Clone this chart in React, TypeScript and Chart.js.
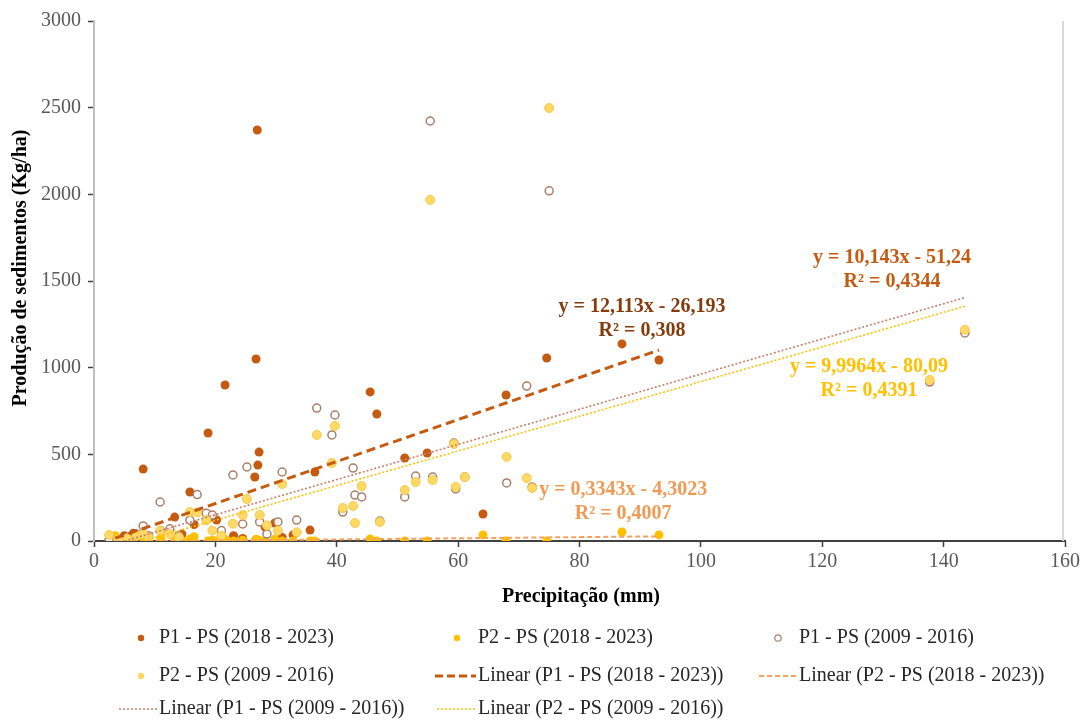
import React, { useEffect, useRef } from "react";
import { Chart, registerables } from "chart.js";

Chart.register(...registerables);

// ---------- data ----------
const xTickValues = [0, 20, 40, 60, 80, 100, 120, 140, 160];
const yTickValues = [0, 500, 1000, 1500, 2000, 2500, 3000];

// events 2018 - 2023 (precipitation, mm)
const recentX = [3.5, 5, 6.5, 8.1, 9, 11, 13.3, 14.5, 15.8, 16.5, 18.8, 19.5, 20.2, 21.6, 23, 24.5, 26.5, 26.7, 26.9, 27.0, 27.2, 28.2, 29.8, 31, 32.8, 35.6, 36.4, 45.5, 46.6, 51.2, 54.9, 64.1, 67.9, 74.6, 87.0, 93.1];
const p1RecentY = [15, 30, 45, 415, 20, 60, 138, 40, 283, 95, 623, 140, 121, 900, 30, 15, 369, 1050, 2371, 438, 513, 81, 104, 20, 35, 63, 398, 860, 733, 479, 508, 156, 842, 1056, 1137, 1044];
const p2RecentY = [30, 5, 10, 20, 0, 15, 5, 0, 10, 25, 0, 5, 0, 10, 0, 5, 0, 10, 0, 0, 5, 0, 10, 0, 0, 0, 0, 12, 0, 0, 0, 35, 0, 0, 52, 35];

// events 2009 - 2016
const histX = [2.5, 4, 5.5, 7, 8.1, 9, 10.9, 12.5, 14, 15.8, 17.0, 18.5, 19.5, 21, 22.9, 24.5, 25.2, 27.3, 28.5, 30.3, 31.0, 33.4, 36.7, 39.2, 39.7, 41.0, 42.7, 43.0, 44.1, 47.1, 51.2, 53.0, 55.4, 55.8, 59.3, 59.6, 61.1, 68.0, 71.3, 72.2, 75.0, 137.7, 143.5];
const p1HistY = [10, 5, 20, 40, 87, 30, 225, 70, 30, 120, 268, 160, 150, 60, 381, 98, 427, 110, 40, 110, 398, 121, 767, 612, 727, 167, 421, 265, 254, 115, 254, 375, 2423, 369, 565, 300, 369, 335, 894, 312, 2020, 917, 1200];
const p2HistY = [35, 10, 15, 30, 40, 20, 60, 40, 20, 167, 165, 120, 60, 30, 100, 150, 242, 150, 90, 60, 329, 50, 612, 450, 664, 190, 202, 104, 317, 110, 294, 340, 1968, 352, 560, 312, 369, 485, 363, 306, 2498, 929, 1218];

// trendline coefficients as printed on the chart
const trendP1Recent = [12.113, -26.193];
const trendP2Recent = [0.3343, -4.3023];
const trendP1Hist = [10.143, -51.24];
const trendP2Hist = [9.9964, -80.09];

const seriesNames = ["P1 - PS (2018 - 2023)", "P2 - PS (2018 - 2023)", "P1 - PS (2009 - 2016)", "P2 - PS (2009 - 2016)"];
const eqTexts = [
  ["y = 12,113x - 26,193", "R² = 0,308"],
  ["y = 0,3343x - 4,3023", "R² = 0,4007"],
  ["y = 10,143x - 51,24", "R² = 0,4344"],
  ["y = 9,9964x - 80,09", "R² = 0,4391"],
];

// ---------- styling ----------
const C_P1R = "#C55A11";
const C_P2R = "#FFC000";
const C_P1H = "#A8806A";
const C_P2H = "#FFD966";
const C_L_P1R = "#C55A11";
const C_L_P2R = "#F4A261";
const C_L_P1H = "#C9806A";
const C_L_P2H = "#FFC000";
const SERIF = '"Liberation Serif", "Times New Roman", serif';

const pts = (xs: number[], ys: number[]) => xs.map((x, i) => ({ x, y: ys[i] }));
const trend = (xs: number[], c: number[]) => {
  const lo = Math.min(...xs);
  const hi = Math.max(...xs);
  return [{ x: lo, y: c[0] * lo + c[1] }, { x: hi, y: c[0] * hi + c[1] }];
};

const decorPlugin = {
  id: "decor",
  afterDraw(chart: any) {
    const ctx = chart.ctx;
    const xs = chart.scales.x;
    const ys = chart.scales.y;
    const area = chart.chartArea;
    ctx.save();

    // right frame line of the plot area
    ctx.strokeStyle = "#D9D9D9";
    ctx.lineWidth = 2;
    ctx.beginPath();
    ctx.moveTo(area.right - 2, area.top);
    ctx.lineTo(area.right - 2, area.bottom);
    ctx.stroke();

    // axis titles
    ctx.fillStyle = "#000";
    ctx.font = `bold 20px ${SERIF}`;
    ctx.textAlign = "center";
    ctx.textBaseline = "middle";
    ctx.fillText("Precipitação (mm)", 581, 597);
    ctx.save();
    ctx.translate(21, 268);
    ctx.rotate(-Math.PI / 2);
    ctx.fillText("Produção de sedimentos (Kg/ha)", 0, 0);
    ctx.restore();

    // equation labels (anchored in data coordinates)
    const eqAnchors = [
      { x: 90.3, y: 1350, color: "#843C0C" },
      { x: 87.2, y: 294, color: "#F19A55" },
      { x: 131.5, y: 1633, color: "#C55A11" },
      { x: 127.7, y: 1004, color: "#FFC000" },
    ];
    ctx.font = `bold 20px ${SERIF}`;
    eqAnchors.forEach((a, i) => {
      const px = xs.getPixelForValue(a.x);
      const py = ys.getPixelForValue(a.y);
      ctx.fillStyle = a.color;
      ctx.fillText(eqTexts[i][0], px, py);
      ctx.fillText(eqTexts[i][1], px, py + 24);
    });

    // legend
    ctx.font = `20px ${SERIF}`;
    ctx.textAlign = "left";
    const dot = (x: number, y: number, fill: string, stroke: string | null) => {
      ctx.beginPath();
      ctx.arc(x, y, 3.2, 0, Math.PI * 2);
      if (stroke) {
        ctx.fillStyle = "#fff";
        ctx.fill();
        ctx.strokeStyle = stroke;
        ctx.lineWidth = 1.2;
        ctx.stroke();
      } else {
        ctx.fillStyle = fill;
        ctx.fill();
      }
    };
    const seg = (x1: number, x2: number, y: number, color: string, w: number, dash: number[]) => {
      ctx.beginPath();
      ctx.setLineDash(dash);
      ctx.strokeStyle = color;
      ctx.lineWidth = w;
      ctx.moveTo(x1, y);
      ctx.lineTo(x2, y);
      ctx.stroke();
      ctx.setLineDash([]);
    };
    const text = (t: string, x: number, y: number) => {
      ctx.fillStyle = "#262626";
      ctx.fillText(t, x, y);
    };
    const r1 = 638, r2 = 676, r3 = 709;
    dot(141, r1, C_P1R, null); text(seriesNames[0], 159, r1);
    dot(457, r1, C_P2R, null); text(seriesNames[1], 478, r1);
    dot(778, r1, "", C_P1H); text(seriesNames[2], 799, r1);
    dot(141, r2, C_P2H, null); text(seriesNames[3], 159, r2);
    seg(435, 476, r2, C_L_P1R, 3, [8, 4]); text("Linear (" + seriesNames[0] + ")", 478, r2);
    seg(759, 797, r2, C_L_P2R, 2, [5, 3]); text("Linear (" + seriesNames[1] + ")", 799, r2);
    seg(119, 158, r3, C_L_P1H, 1.5, [2, 2]); text("Linear (" + seriesNames[2] + ")", 159, r3);
    seg(437, 476, r3, C_L_P2H, 1.5, [2, 2]); text("Linear (" + seriesNames[3] + ")", 478, r3);

    ctx.restore();
  },
};

export default function App() {
  const ref = useRef<HTMLCanvasElement | null>(null);

  useEffect(() => {
    if (!ref.current) return;
    const chart = new Chart(ref.current, {
      type: "scatter",
      data: {
        datasets: [
          { label: "Linear P1 2018", type: "line", data: trend(recentX, trendP1Recent), borderColor: C_L_P1R, borderWidth: 3, borderDash: [9, 5], pointRadius: 0, fill: false, order: 0 } as any,
          { label: "Linear P2 2018", type: "line", data: trend(recentX, trendP2Recent), borderColor: C_L_P2R, borderWidth: 2, borderDash: [5, 3], pointRadius: 0, fill: false, order: 0 } as any,
          { label: "Linear P1 2009", type: "line", data: trend(histX, trendP1Hist), borderColor: C_L_P1H, borderWidth: 1.6, borderDash: [2, 2], pointRadius: 0, fill: false, order: 0 } as any,
          { label: "Linear P2 2009", type: "line", data: trend(histX, trendP2Hist), borderColor: C_L_P2H, borderWidth: 1.6, borderDash: [2, 2], pointRadius: 0, fill: false, order: 0 } as any,
          { label: seriesNames[3], data: pts(histX, p2HistY), backgroundColor: C_P2H, borderColor: "#F7C948", borderWidth: 1, pointRadius: 4.5, order: 1 },
          { label: seriesNames[2], data: pts(histX, p1HistY), backgroundColor: "rgba(255,255,255,0.9)", borderColor: C_P1H, borderWidth: 1.5, pointRadius: 4, order: 2 },
          { label: seriesNames[1], data: pts(recentX, p2RecentY), backgroundColor: C_P2R, borderColor: C_P2R, borderWidth: 0, pointRadius: 4.5, order: 3 },
          { label: seriesNames[0], data: pts(recentX, p1RecentY), backgroundColor: C_P1R, borderColor: C_P1R, borderWidth: 0, pointRadius: 4.5, order: 4 },
        ],
      },
      options: {
        responsive: false,
        animation: false,
        devicePixelRatio: 1,
        layout: { padding: { left: 0, top: 21, right: 18, bottom: 0 } },
        plugins: { legend: { display: false }, tooltip: { enabled: false } },
        scales: {
          x: {
            type: "linear",
            min: 0,
            max: 160,
            afterBuildTicks: (s: any) => { s.ticks = xTickValues.map((v) => ({ value: v })); },
            afterFit: (s: any) => { s.height = 179; },
            ticks: { color: "#595959", font: { family: SERIF, size: 20 }, padding: 3, callback: (v: any) => String(v) },
            grid: { drawOnChartArea: false, drawTicks: true, tickLength: 6, tickColor: "#404040", tickWidth: 1.5 },
            border: { color: "#404040", width: 2 },
          },
          y: {
            type: "linear",
            min: 0,
            max: 3000,
            afterBuildTicks: (s: any) => { s.ticks = yTickValues.map((v) => ({ value: v })); },
            afterFit: (s: any) => { s.width = 94; },
            ticks: { color: "#595959", font: { family: SERIF, size: 20 }, padding: 7, callback: (v: any) => String(v) },
            grid: { drawOnChartArea: false, drawTicks: true, tickLength: 6, tickColor: "#404040", tickWidth: 1.5 },
            border: { color: "#BFBFBF", width: 2 },
          },
        },
      },
      plugins: [decorPlugin],
    });
    return () => chart.destroy();
  }, []);

  return (
    <div style={{ position: "fixed", left: 0, top: 0, width: 1083, height: 720, background: "#fff" }}>
      <canvas ref={ref} width={1083} height={720} style={{ width: 1083, height: 720, display: "block" }} />
    </div>
  );
}
